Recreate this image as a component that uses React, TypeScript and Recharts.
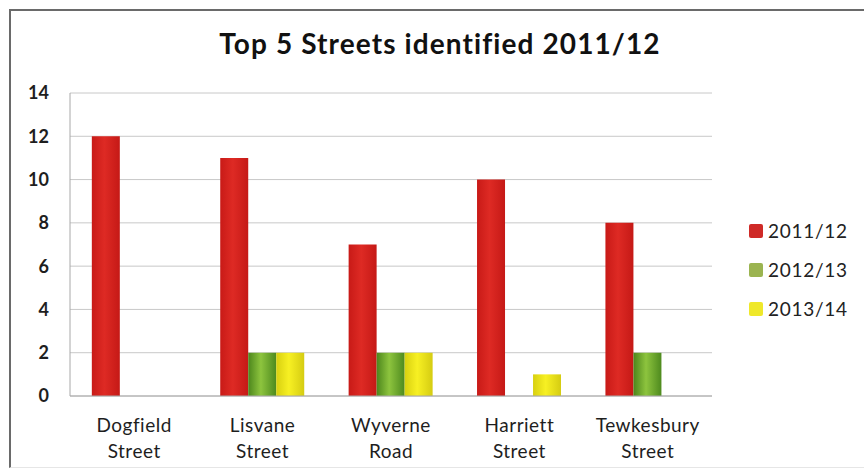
import { BarChart, Bar, XAxis, YAxis, CartesianGrid } from "recharts"

// data
const streets = ["Dogfield Street", "Lisvane Street", "Wyverne Road", "Harriett Street", "Tewkesbury Street"]
const y2011 = [12, 11, 7, 10, 8]
const y2012 = [0, 2, 2, 0, 2]
const y2013 = [0, 2, 2, 1, 0]
const yTicks = [0, 2, 4, 6, 8, 10, 12, 14]

const seriesInfo = [
  { key: "s2011", label: "2011/12", color: "#CF2A27", fill: "url(#redGrad)" },
  { key: "s2012", label: "2012/13", color: "#9BB450", fill: "url(#greenGrad)" },
  { key: "s2013", label: "2013/14", color: "#EFE82A", fill: "url(#yellowGrad)" },
]

const chartData = streets.map((name, i) => ({
  name,
  s2011: y2011[i],
  s2012: y2012[i],
  s2013: y2013[i],
}))

const font = "Lato, 'Open Sans', sans-serif"

function StreetTick(props: any) {
  const { x, y, payload } = props
  const parts = String(payload.value).split(" ")
  return (
    <text x={x} y={y} textAnchor="middle" fill="#1e1e1e" fontSize={19} fontFamily={font} letterSpacing={0.5}>
      <tspan x={x} dy={28}>{parts[0]}</tspan>
      <tspan x={x} dy={26}>{parts.slice(1).join(" ")}</tspan>
    </text>
  )
}

// legend drawn as plain html so it does not eat into the plot area
function LegendBox() {
  return (
    <div style={{ position: "absolute", left: 749, top: 211, fontFamily: font }}>
      {seriesInfo.map((s) => (
        <div key={s.key} style={{ display: "flex", alignItems: "center", height: 39 }}>
          <span style={{ width: 14, height: 14, background: s.color, borderRadius: 2, marginRight: 5 }} />
          <span style={{ fontSize: 19, color: "#222", letterSpacing: 0.7 }}>{s.label}</span>
        </div>
      ))}
    </div>
  )
}

export default function App() {
  return (
    <div style={{ position: "absolute", left: 0, top: 0, width: 864, height: 470, background: "#fff" }}>
      <div
        style={{
          position: "absolute",
          left: 9,
          top: 9,
          width: 860,
          height: 456,
          borderTop: "2px solid #6a6a6a",
          borderLeft: "2px solid #6a6a6a",
          borderBottom: "1px solid #e6e6e6",
        }}
      />
      <div
        style={{
          position: "absolute",
          left: 0,
          top: 26,
          width: 880,
          textAlign: "center",
          fontFamily: font,
          fontWeight: 700,
          fontSize: 28,
          letterSpacing: 1.1,
          color: "#111",
        }}
      >
        Top 5 Streets identified 2011/12
      </div>
      <div style={{ position: "absolute", left: 0, top: 0 }}>
        <BarChart
          width={864}
          height={470}
          data={chartData}
          margin={{ top: 93, right: 152, bottom: 0, left: 10 }}
          barCategoryGap="17%"
          barGap={0}
        >
          <defs>
            <linearGradient id="redGrad" x1="0" y1="0" x2="1" y2="0">
              <stop offset="0%" stopColor="#C81A17" />
              <stop offset="45%" stopColor="#DE2A24" />
              <stop offset="100%" stopColor="#C51916" />
            </linearGradient>
            <linearGradient id="greenGrad" x1="0" y1="0" x2="1" y2="0">
              <stop offset="0%" stopColor="#4C861C" />
              <stop offset="45%" stopColor="#8DC43E" />
              <stop offset="100%" stopColor="#4E8A1E" />
            </linearGradient>
            <linearGradient id="yellowGrad" x1="0" y1="0" x2="1" y2="0">
              <stop offset="0%" stopColor="#D8D010" />
              <stop offset="45%" stopColor="#F7F023" />
              <stop offset="100%" stopColor="#D5CC12" />
            </linearGradient>
          </defs>
          <CartesianGrid vertical={false} stroke="#c8c8c8" />
          <XAxis
            dataKey="name"
            height={74}
            tick={<StreetTick />}
            tickLine={false}
            axisLine={{ stroke: "#a8a8a8" }}
            interval={0}
          />
          <YAxis
            width={60}
            domain={[0, 14]}
            ticks={yTicks}
            tickSize={0}
            tickMargin={21}
            tickLine={false}
            axisLine={{ stroke: "#a8a8a8" }}
            tick={{ fill: "#1e1e1e", fontSize: 18, fontWeight: 700, fontFamily: font }}
          />
          {seriesInfo.map((s) => (
            <Bar key={s.key} dataKey={s.key} name={s.label} fill={s.fill} isAnimationActive={false} />
          ))}
        </BarChart>
      </div>
      <LegendBox />
    </div>
  )
}
